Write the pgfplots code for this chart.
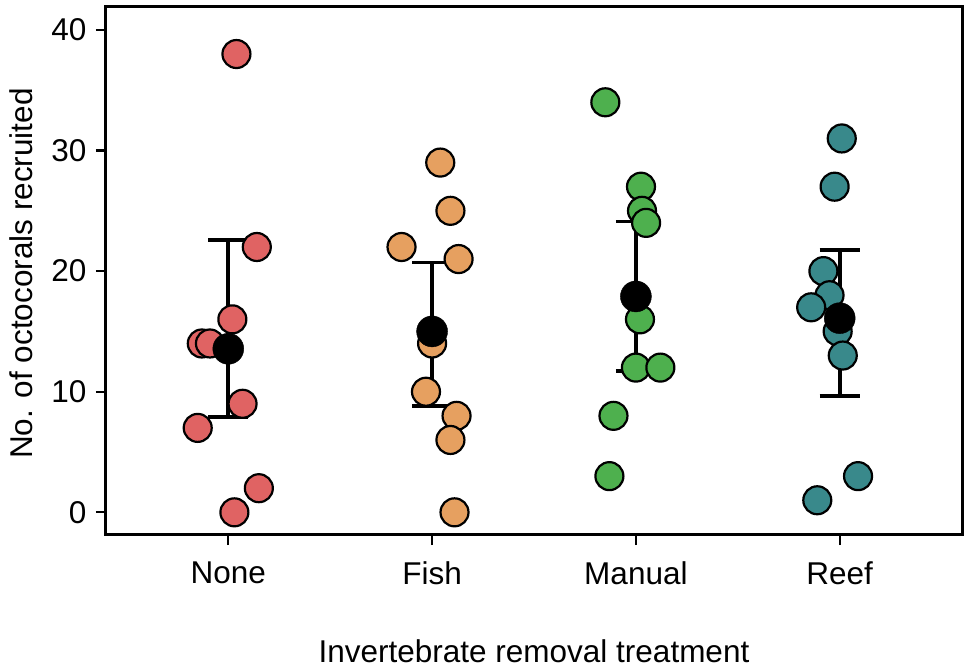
\documentclass[border=0pt]{standalone}
\usepackage{pgfplots}
\pgfplotsset{compat=1.18}
\usepackage{fontspec}
\setmainfont{Liberation Sans}
\definecolor{cNone}{RGB}{224,99,99}
\definecolor{cFish}{RGB}{230,160,96}
\definecolor{cManual}{RGB}{78,176,78}
\definecolor{cReef}{RGB}{57,137,139}
\begin{document}
\begin{tikzpicture}
\path[use as bounding box] (-106pt,-134pt) rectangle (864pt,535pt);
\begin{axis}[
  at={(0pt,0pt)}, anchor=south west,
  scale only axis, width=856pt, height=528pt,
  xmin=0.4, xmax=4.6, ymin=-1.88, ymax=41.9,
  xtick={1,2,3,4}, xticklabels={None,Fish,Manual,Reef},
  ytick={0,10,20,30,40},
  xtick pos=lower, ytick pos=left,
  tick align=outside, major tick length=10pt,
  axis line style={line width=3pt},
  every tick/.style={line width=2.2pt, black},
  /pgf/number format/assume math mode=true,
  tick label style={font=\fontsize{31.5}{36}\selectfont},
  xticklabel style={yshift=-13pt},
  yticklabel style={xshift=-6pt},
  label style={font=\fontsize{31.5}{36}\selectfont},
  xlabel={Invertebrate removal treatment},
  ylabel={No. of octocorals recruited},
  xlabel style={at={(axis description cs:0.5,-0.2424)}, anchor=base},
  ylabel style={at={(axis description cs:-0.0853,0.495)}, anchor=base, rotate=0},
  clip=false,
  unbounded coords=jump,
]
% individual observations
\addplot[only marks, mark=*, mark size=14pt, mark options={fill=cNone, draw=black, line width=2.2pt}]
 coordinates {(1.04,38) (1.14,22) (1.02,16) (0.87,14) (0.91,14) (1.07,9) (0.85,7) (1.15,2) (1.03,0)};
\addplot[only marks, mark=*, mark size=14pt, mark options={fill=cFish, draw=black, line width=2.2pt}]
 coordinates {(2.04,29) (2.09,25) (1.85,22) (2.13,21) (2.0,14) (1.97,10) (2.12,8) (2.09,6) (2.11,0)};
\addplot[only marks, mark=*, mark size=14pt, mark options={fill=cManual, draw=black, line width=2.2pt}]
 coordinates {(2.85,34) (3.025,27) (3.03,25) (3.05,24) (3.02,16) (3.0,12) (3.12,12) (2.89,8) (2.87,3)};
\addplot[only marks, mark=*, mark size=14pt, mark options={fill=cReef, draw=black, line width=2.2pt}]
 coordinates {(4.01,31) (3.975,27) (3.92,20) (3.95,18) (3.86,17) (3.99,15) (4.015,13) (4.09,3) (3.89,1)};
% error bars (vertical whiskers and caps)
\addplot[black, line width=3.6pt, mark=none]
 coordinates {
 (1,7.9) (1,22.6) (1,nan) (0.902,22.6) (1.098,22.6) (1,nan) (0.902,7.9) (1.098,7.9) (1,nan)
 (2,8.8) (2,20.7) (2,nan) (1.902,20.7) (2.098,20.7) (2,nan) (1.902,8.8) (2.098,8.8) (2,nan)
 (3,11.7) (3,24.1) (3,nan) (2.902,24.1) (3.098,24.1) (3,nan) (2.902,11.7) (3.098,11.7) (3,nan)
 (4,9.65) (4,21.75) (4,nan) (3.902,21.75) (4.098,21.75) (4,nan) (3.902,9.65) (4.098,9.65)
 };
% means
\addplot[only marks, mark=*, mark size=15.5pt, mark options={fill=black, draw=black}]
 coordinates {(1,13.56) (2,15.0) (3,17.9) (4,16.1)};
\end{axis}
\end{tikzpicture}
\end{document}
